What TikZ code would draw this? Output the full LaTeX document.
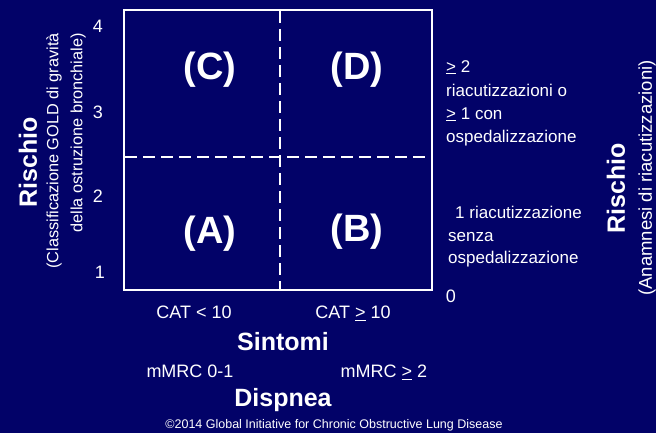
\documentclass[tikz,border=0pt]{standalone}
\usepackage{fontspec}
\setmainfont{Liberation Sans}
\definecolor{bg}{RGB}{2,2,104}
\begin{document}
\begin{tikzpicture}[x=1pt,y=-1pt,
  txt/.style={text=white, inner sep=0pt, text depth=0pt},
  num/.style={txt, text height=12.9pt, font=\fontsize{18}{22}\selectfont},
  quad/.style={txt, text height=27.2pt, font=\fontsize{38}{44}\selectfont\bfseries},
  axis/.style={txt, text height=17.9pt, font=\fontsize{25}{30}\selectfont\bfseries},
  lab/.style={txt, text height=12.9pt, font=\fontsize{18}{22}\selectfont},
  side/.style={txt, text height=12.2pt, anchor=west, font=\fontsize{17}{20}\selectfont},
  gridline/.style={white, line width=2pt},
  divline/.style={white, line width=2.6pt, dash pattern=on 12pt off 6pt}
]
\fill[bg] (0,0) rectangle (656,433);
\useasboundingbox (0,0) rectangle (656,433);

% grid
\coordinate (tl) at (124,10);
\coordinate (br) at (432,290);
\draw[gridline] (tl) rectangle (br);
\coordinate (vt) at (280,11);
\coordinate (vb) at (280,289);
\coordinate (hl) at (125,157);
\coordinate (hr) at (431,157);
\draw[divline] (vt) -- (vb);
\draw[divline] (hl) -- (hr);

% quadrant letters
\node[quad] (C) at (210,66) {(C)};
\node[quad] (D) at (357,66) {(D)};
\node[quad] (A) at (210,230) {(A)};
\node[quad] (B) at (357,228) {(B)};

% left axis numbers
\node[num] (n4) at (98,26) {4};
\node[num] (n3) at (98,112) {3};
\node[num] (n2) at (98,196) {2};
\node[num] (n1) at (100,272) {1};

% left axis titles
\node[axis, rotate=90] (rl) at (28,162) {Rischio};
\node[text=white, inner sep=0pt, rotate=90, anchor=east, align=right, font=\fontsize{16.3}{24}\selectfont]
  (rlsub) at (66,33) {(Classificazione GOLD di gravità\\della ostruzione bronchiale)};

% right side texts
\node[side] (r1) at (446,66) {\underline{>} 2};
\node[side] (r2) at (446,90) {riacutizzazioni o};
\node[side] (r3) at (446,113) {\underline{>} 1 con};
\node[side] (r4) at (446,136) {ospedalizzazione};
\node[side] (r5) at (455,212) {1 riacutizzazione};
\node[side] (r6) at (448,235) {senza};
\node[side] (r7) at (448,257) {ospedalizzazione};
\node[num] (n0) at (451,296) {0};

% right axis titles
\node[axis, rotate=90] (rr) at (616,188) {Rischio};
\node[text=white, inner sep=0pt, rotate=90, font=\fontsize{18.5}{22}\selectfont] (rrsub) at (647,178) {(Anamnesi di riacutizzazioni)};

% bottom
\node[lab] (cat1) at (194,312) {CAT < 10};
\node[lab] (cat2) at (353,312) {CAT \underline{>} 10};
\node[axis] (sint) at (283,342) {Sintomi};
\node[lab] (mm1) at (190,371) {mMRC 0-1};
\node[lab] (mm2) at (384,371) {mMRC \underline{>} 2};
\node[axis] (disp) at (283,398) {Dispnea};
\node[txt, text height=9pt, font=\fontsize{12.5}{15}\selectfont] (copy) at (334,424) {©2014 Global Initiative for Chronic Obstructive Lung Disease};
\end{tikzpicture}
\end{document}
